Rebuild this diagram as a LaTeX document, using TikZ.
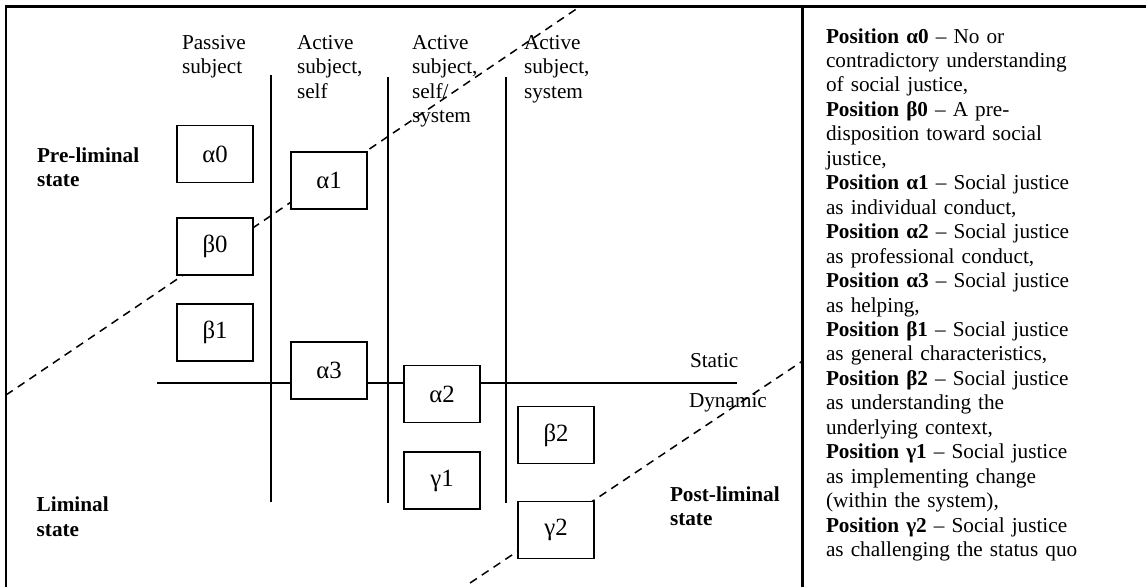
\documentclass[tikz,border=0pt]{standalone}
\usepackage{fontspec}
\setmainfont{Liberation Serif}
\begin{document}
\begin{tikzpicture}[x=0.565pt, y=-0.565pt,
  every node/.style={inner sep=0pt, outer sep=0pt},
  txt/.style={font=\fontsize{12}{13.82}\selectfont},
  colhead/.style={txt, anchor=base west, text width=60pt, align=left},
  statelbl/.style={txt, font=\fontsize{12}{13.82}\selectfont\bfseries, anchor=base west, text width=80pt, align=left},
  posbox/.style={draw, line width=1.1pt, fill=white, minimum width=42.9pt, minimum height=32.2pt, font=\fontsize{14}{16}\selectfont},
  rule/.style={line width=1.1pt},
  border/.style={line width=1.3pt},
  cut/.style={line width=0.85pt, dash pattern=on 4.6pt off 3.4pt}
]
\useasboundingbox (0,0) rectangle (1146,587);

% outer frame and legend divider
\coordinate (tl) at (6,6.5);
\coordinate (tr) at (1146,6.5);
\coordinate (bl) at (6,587);
\coordinate (dt) at (802.5,6.5);
\coordinate (db) at (802.5,587);
\draw[border] (bl) -- (tl) -- (tr);
\draw[border] (dt) -- (db);

% boundaries between the states
\coordinate (u1) at (6,395);
\coordinate (u2) at (580,6.5);
\coordinate (l1) at (470,583);
\coordinate (l2) at (802.5,361);
\draw[cut] (u1) -- (u2);
\draw[cut] (l1) -- (l2);

% column separators
\coordinate (c1t) at (271,75);  \coordinate (c1b) at (271,502);
\coordinate (c2t) at (388,77);  \coordinate (c2b) at (388,503);
\coordinate (c3t) at (506,77);  \coordinate (c3b) at (506,503);
\draw[rule] (c1t) -- (c1b);
\draw[rule] (c2t) -- (c2b);
\draw[rule] (c3t) -- (c3b);

% column headers
\node[colhead] (h1) at (182,49.5) {Passive\\subject};
\node[colhead] (h2) at (297,49.5) {Active\\subject,\\self};
\node[colhead] (h3) at (412,49.5) {Active\\subject,\\self/\\system};
\node[colhead] (h4) at (524,49.5) {Active\\subject,\\system};

% positions
\node[posbox] (a0) at (215,154) {α0};
\node[posbox] (a1) at (329,180.5) {α1};
\node[posbox] (b0) at (215,246.5) {β0};
\node[posbox] (b1) at (215,332.5) {β1};
\node[posbox] (a3) at (329,370.5) {α3};
\node[posbox] (a2) at (442,394) {α2};
\node[posbox] (g1) at (442,480.5) {γ1};
\node[posbox] (b2) at (556,435) {β2};
\node[posbox] (g2) at (556,530) {γ2};

% static / dynamic divide
\coordinate (hs) at (157,383);
\coordinate (he) at (737,383);
\draw[rule] (hs) -- (a3.west |- hs);
\draw[rule] (a3.east |- hs) -- (a2.west |- hs);
\draw[rule] (a2.east |- hs) -- (he);
\node[txt, anchor=base west] (st) at (690,367) {Static};
\node[txt, anchor=base west] (dy) at (689,407) {Dynamic};

% state labels
\node[statelbl] (pre) at (37,162.3) {Pre-liminal\\state};
\node[statelbl] (lim) at (36.7,511.7) {Liminal\\state};
\node[statelbl] (post) at (670,501) {Post-liminal\\state};

% legend
\node[txt, anchor=base west, text width=200pt, align=left] (legend) at (826,43) {%
\textbf{Position α0} – No or\\
contradictory understanding\\
of social justice,\\
\textbf{Position β0} – A pre-\\
disposition toward social\\
justice,\\
\textbf{Position α1} – Social justice\\
as individual conduct,\\
\textbf{Position α2} – Social justice\\
as professional conduct,\\
\textbf{Position α3} – Social justice\\
as helping,\\
\textbf{Position β1} – Social justice\\
as general characteristics,\\
\textbf{Position β2} – Social justice\\
as understanding the\\
underlying context,\\
\textbf{Position γ1} – Social justice\\
as implementing change\\
(within the system),\\
\textbf{Position γ2} – Social justice\\
as challenging the status quo};
\end{tikzpicture}
\end{document}
